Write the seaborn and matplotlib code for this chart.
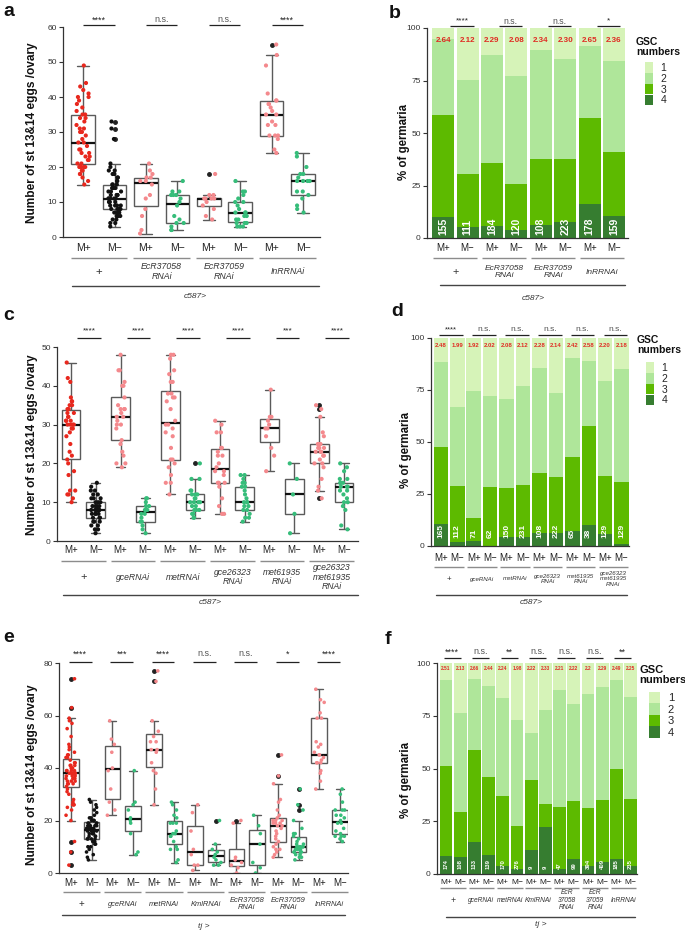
import numpy as np
import pandas as pd
import matplotlib
matplotlib.use('Agg')
import matplotlib.pyplot as plt
import seaborn as sns
from matplotlib.patches import Patch

np.random.seed(3)
sns.set_theme(style='white')
plt.rcParams['font.family'] = ['Liberation Sans', 'DejaVu Sans']
plt.rcParams['axes.linewidth'] = 0.9

W, H = 685, 931
fig = plt.figure(figsize=(W / 100, H / 100), dpi=100)

RED, BLACK, PINK, GREEN = '#e8281e', '#111111', '#f4898d', '#36bd7a'
GSC_COL = {1: '#d6f3b8', 2: '#afe69a', 3: '#5dba00', 4: '#367d30'}
MEAN_RED = '#e02a22'

# ---------------- data: panel a ----------------
a_groups = ['+', 'EcR37058\nRNAi', 'EcR37059\nRNAi', 'InRRNAi']
a_sig = ['****', 'n.s.', 'n.s.', '****']
a_vals = [
    [49, 44, 43, 42, 41, 40, 40, 39, 38, 37, 36, 35, 35, 34, 34, 33, 32, 31, 31, 30, 30, 29, 28, 27, 27, 26, 25, 25,
     24, 24, 23, 23, 22, 22, 21, 21, 20, 20, 20, 20, 19, 19, 18, 18, 17, 16, 15],
    [33, 31, 28, 21, 20, 19, 19, 18, 18, 17, 17, 16, 16, 15, 15, 15, 14, 14, 14, 13, 13, 13, 12, 12, 12, 12, 11, 11,
     11, 11, 11, 10, 10, 10, 10, 9, 9, 9, 9, 8, 8, 8, 8, 7, 7, 7, 6, 6, 6, 5, 5, 4, 4, 3],
    [21, 19, 18, 17, 17, 16, 16, 15, 12, 11, 8, 6, 2, 1],
    [16, 13, 13, 12, 12, 12, 11, 10, 9, 6, 5, 4, 4, 3, 2, 2],
    [18, 12, 12, 11, 11, 11, 11, 10, 9, 8, 6, 5],
    [16, 13, 13, 12, 11, 10, 10, 9, 8, 7, 7, 7, 6, 6, 5, 5, 4, 4, 4, 3, 3, 3],
    [55, 52, 49, 41, 39, 39, 38, 38, 37, 36, 35, 35, 33, 32, 32, 29, 29, 29, 28, 25, 24],
    [24, 23, 20, 18, 18, 17, 16, 16, 16, 16, 13, 13, 12, 11, 9, 8, 7],
]
a_colors = [RED, BLACK, PINK, GREEN, PINK, GREEN, PINK, GREEN]

# ---------------- data: panel c ----------------
c_groups = ['+', 'gceRNAi', 'metRNAi', 'gce26323\nRNAi', 'met61935\nRNAi', 'gce26323\nmet61935\nRNAi']
c_sig = ['****', '****', '****', '****', '***', '****']
c_vals = [
    [46, 42, 41, 37, 36, 36, 35, 35, 34, 34, 33, 33, 32, 32, 31, 31, 31, 30, 30, 30, 30, 29, 29, 28, 27, 25, 23, 22,
     21, 20, 18, 17, 13, 13, 12, 12, 11, 10],
    [15, 14, 13, 13, 12, 12, 11, 11, 11, 10, 10, 10, 9, 9, 9, 9, 8, 8, 8, 8, 8, 8, 7, 7, 7, 7, 6, 6, 6, 5, 5, 5, 4, 4,
     3, 3, 2],
    [48, 44, 44, 41, 40, 40, 37, 35, 34, 34, 34, 33, 32, 32, 31, 30, 30, 29, 26, 25, 23, 22, 20, 20, 19],
    [11, 11, 10, 9, 9, 8, 8, 8, 7, 7, 6, 5, 5, 4, 3, 2],
    [48, 48, 47, 44, 43, 41, 41, 38, 38, 37, 37, 36, 34, 31, 30, 30, 29, 28, 27, 24, 21, 21, 20, 19, 17, 15, 15, 12],
    [20, 16, 16, 13, 13, 12, 12, 12, 11, 11, 10, 10, 10, 10, 9, 9, 8, 8, 8, 7, 7, 6, 6],
    [31, 30, 28, 28, 24, 24, 23, 22, 22, 20, 19, 18, 18, 17, 15, 15, 15, 14, 11, 9, 7, 7],
    [17, 17, 16, 15, 15, 14, 14, 13, 12, 11, 10, 10, 10, 9, 9, 8, 8, 7, 6, 6, 5],
    [39, 32, 32, 31, 30, 29, 29, 27, 24, 22, 18],
    [20, 16, 12, 7, 2],
    [35, 34, 32, 28, 27, 25, 25, 25, 24, 24, 24, 23, 23, 23, 22, 22, 21, 20, 20, 19, 16, 14, 13, 11],
    [20, 19, 18, 16, 16, 15, 15, 15, 14, 14, 14, 13, 13, 12, 11, 10, 10, 9, 8, 4, 3],
]
c_colors = [RED, BLACK] + [PINK, GREEN] * 5

# ---------------- data: panel e ----------------
e_groups = ['+', 'gceRNAi', 'metRNAi', 'KmlRNAi', 'EcR37058\nRNAi', 'EcR37059\nRNAi', 'InRRNAi']
e_sig = ['****', '***', '****', 'n.s.', 'n.s.', '*', '****']
e_vals = [
    [74, 63, 59, 58, 57, 55, 52, 49, 48, 47, 46, 45, 45, 44, 44, 43, 42, 42, 41, 41, 41, 40, 40, 40, 39, 39, 39, 39,
     38, 38, 38, 38, 37, 37, 37, 36, 36, 36, 35, 35, 35, 34, 34, 34, 33, 32, 31, 30, 28, 27, 26, 26, 26, 25, 24, 22,
     20, 12, 8, 3],
    [28, 27, 26, 25, 24, 23, 22, 21, 21, 20, 20, 20, 20, 19, 19, 19, 19, 18, 18, 18, 18, 17, 17, 17, 17, 17, 16, 16,
     16, 16, 15, 15, 15, 15, 14, 14, 14, 13, 13, 13, 13, 12, 12, 11, 11, 10, 10, 9, 8, 7, 6, 5],
    [58, 51, 49, 46, 40, 39, 32, 27, 24, 22],
    [39, 27, 26, 24, 21, 20, 19, 15, 8, 7],
    [77, 73, 58, 54, 52, 50, 50, 47, 47, 46, 42, 39, 38, 32, 26],
    [27, 26, 24, 22, 21, 19, 19, 19, 16, 15, 15, 14, 14, 12, 10, 9, 9, 5, 4],
    [26, 23, 16, 9, 7, 3, 3, 1],
    [20, 11, 9, 8, 7, 6, 5, 4, 3, 3],
    [20, 19, 6, 5, 4, 3, 2, 0],
    [22, 18, 15, 11, 4, 2, 0],
    [45, 37, 34, 28, 27, 24, 22, 21, 20, 20, 20, 19, 19, 19, 18, 18, 17, 16, 15, 14, 13, 12, 11, 10, 9, 9, 8, 7, 6],
    [32, 26, 24, 20, 17, 15, 15, 14, 13, 12, 11, 11, 10, 10, 10, 10, 10, 9, 9, 9, 9, 8, 8, 8, 8, 7, 7, 6, 6, 5],
    [70, 66, 65, 61, 59, 59, 50, 49, 48, 46, 45, 45, 44, 43, 42, 42, 42, 39, 38, 35, 32],
    [32, 30, 27, 24, 24, 24, 22, 22, 21, 20, 19, 19, 17, 16, 15, 14, 14, 14, 13, 12],
]
e_colors = [RED, BLACK] + [PINK, GREEN] * 6

# ---------------- data: panel b (percent of germaria with 4/3/2/1 GSCs) ----------------
b_groups = a_groups
b_sig = ['****', 'n.s.', 'n.s.', '*']
b_p4 = [10.2, 5.4, 5.9, 4.0, 6.3, 7.5, 16.3, 10.6]
b_p3 = [48.5, 25.2, 30.0, 21.9, 31.5, 30.0, 40.8, 30.2]
b_p2 = [36.1, 44.8, 51.4, 51.4, 51.9, 47.7, 34.5, 43.3]
b_p1 = [5.2, 24.6, 12.7, 22.7, 10.3, 14.8, 8.4, 15.9]
b_means = ['2.64', '2.12', '2.29', '2.08', '2.34', '2.30', '2.65', '2.36']
b_n = [155, 111, 184, 120, 108, 223, 178, 159]

# ---------------- data: panel d ----------------
d_groups = c_groups
d_sig = ['****', 'n.s.', 'n.s.', 'n.s.', 'n.s.', 'n.s.']
d_p4 = [10.5, 1.9, 2.3, 0.0, 4.3, 4.3, 6.1, 6.4, 7.4, 10.1, 5.9, 1.1]
d_p3 = [36.9, 26.9, 11.4, 28.6, 23.4, 25.0, 28.8, 26.6, 35.2, 47.6, 27.9, 29.5]
d_p2 = [41.3, 37.8, 60.6, 43.7, 43.2, 47.7, 50.8, 40.4, 47.9, 31.4, 45.7, 54.5]
d_p1 = [11.3, 33.4, 25.7, 27.7, 29.1, 23.0, 14.3, 26.6, 9.5, 10.9, 20.5, 14.9]
d_means = ['2.48', '1.99', '1.92', '2.02', '2.08', '2.12', '2.28', '2.14', '2.42', '2.58', '2.20', '2.18']
d_n = [165, 112, 71, 62, 150, 231, 108, 222, 65, 38, 129, 129]

# ---------------- data: panel f ----------------
f_groups = ['+', 'gceRNAi', 'metRNAi', 'KmlRNAi', 'EcR\n37058\nRNAi', 'EcR\n37059\nRNAi', 'InRRNAi']
f_sig = ['****', 'n.s.', '**', 'n.s.', 'n.s.', 'n.s.', '**']
f_p4 = [8.5, 7.9, 15.3, 9.0, 3.8, 2.4, 11.4, 22.4, 2.4, 7.1, 3.9, 5.8, 7.3, 3.9]
f_p3 = [42.6, 21.6, 43.4, 37.1, 33.1, 20.5, 33.1, 11.0, 29.5, 27.4, 27.5, 29.2, 42.4, 31.6]
f_p2 = [40.7, 46.8, 33.6, 42.9, 46.5, 50.3, 22.1, 44.2, 55.2, 46.3, 53.8, 53.6, 42.1, 48.4]
f_p1 = [8.2, 23.7, 7.7, 11.0, 16.6, 26.8, 33.4, 22.4, 12.9, 19.2, 14.8, 11.4, 8.2, 16.1]
f_means = ['2.51', '2.13', '2.66', '2.44', '2.24', '1.98', '2.22', '2.33', '2.21', '2.22', '2.2', '2.29', '2.49', '2.25']
f_n = [174, 108, 133, 139, 170, 276, 9, 9, 47, 99, 394, 409, 185, 235]


# ---------------- helpers ----------------
def px_ax(x0, y0, x1, y1):
    ax = fig.add_axes([x0 / W, 1 - y1 / H, (x1 - x0) / W, (y1 - y0) / H])
    ax.set_facecolor('none')
    return ax


def yf(cfg, ypx):
    return (cfg['bot'] - ypx) / (cfg['bot'] - cfg['top'])


def decorate(ax, n, groups, sig, cfg, driver):
    tr = ax.get_xaxis_transform()
    for i in range(n):
        ax.text(i, yf(cfg, cfg['tick_y']), 'M+' if i % 2 == 0 else 'M\u2212', transform=tr,
                ha='center', va='center', fontsize=cfg['tick_fs'], color='#222222', clip_on=False)
    for g, lab in enumerate(groups):
        ax.plot([2 * g - 0.4, 2 * g + 1.4], [yf(cfg, cfg['gline_y'])] * 2, transform=tr,
                color='#8c8c8c', lw=1.0, clip_on=False, solid_capstyle='butt')
        ax.text(2 * g + 0.5, yf(cfg, cfg['glab_y']), lab, transform=tr, ha='center', va='center',
                fontsize=cfg['glab_fs'] * (1.3 if lab == '+' else 1.0),
                style='normal' if lab == '+' else 'italic', color='#333333',
                linespacing=1.05, clip_on=False)
        s = sig[g]
        x0, x1 = 2 * g + cfg['sig_dx'][0], 2 * g + 1 + cfg['sig_dx'][1]
        ax.plot([x0, x1], [yf(cfg, cfg['sig_line_y'])] * 2, transform=tr, color='#222222', lw=0.9,
                clip_on=False, solid_capstyle='butt')
        star = s.startswith('*')
        ax.text((x0 + x1) / 2, yf(cfg, cfg['sig_text_y']), s, transform=tr, ha='center', va='center',
                fontsize=cfg['star_fs'] if star else cfg['ns_fs'],
                color='#222222' if star else '#555555', clip_on=False)
    lx = cfg['long_x']
    ax.plot(lx, [yf(cfg, cfg['long_y'])] * 2, transform=tr, color='#444444', lw=1.0, clip_on=False)
    ax.text(sum(lx) / 2, yf(cfg, cfg['driver_y']), driver, transform=tr, ha='center', va='center',
            fontsize=cfg['driver_fs'], style='italic', color='#333333', clip_on=False)


def style_axes(ax, cfg, yticks):
    sns.despine(ax=ax)
    ax.set_xlim(*cfg['xlim'])
    ax.set_ylim(yticks[0], yticks[-1])
    ax.set_yticks(yticks)
    ax.set_yticklabels([str(t) for t in yticks])
    ax.set_xticks([])
    ax.set_xlabel('')
    ax.set_ylabel('')
    ax.tick_params(axis='y', left=True, length=3, width=0.8, pad=1.5, labelsize=cfg['ytick_fs'],
                   colors='#333333')
    for sp in ['left', 'bottom']:
        ax.spines[sp].set_color('#333333')


def box_panel(cfg, vals, colors, groups, sig, yticks, ylabel, driver, letter):
    ax = px_ax(cfg['left'], cfg['top'], cfg['right'], cfg['bot'])
    n = len(vals)
    cats = [str(i) for i in range(n)]
    rows = [(cats[i], v) for i, vs in enumerate(vals) for v in vs]
    df = pd.DataFrame(rows, columns=['cat', 'val'])
    sns.boxplot(data=df, x='cat', y='val', order=cats, color='white', saturation=1,
                linecolor='#5a5a5a', linewidth=1.0, width=0.75, whis=1.5, fliersize=2.5,
                flierprops=dict(marker='o', markerfacecolor='#222222', markeredgecolor='#222222'),
                medianprops=dict(color='#111111', linewidth=1.6), ax=ax)
    sns.stripplot(data=df, x='cat', y='val', order=cats, hue='cat', palette=dict(zip(cats, colors)),
                  jitter=cfg['jitter'], size=cfg['pt'], linewidth=0, legend=False, ax=ax, zorder=3)
    style_axes(ax, cfg, yticks)
    decorate(ax, n, groups, sig, cfg, driver)
    fig.text(cfg['ylab_x'] / W, 1 - cfg['ylab_y'] / H, ylabel, rotation=90, ha='center', va='center',
             fontsize=8.6, fontweight='bold', color='#111111')
    fig.text(cfg['let_x'] / W, 1 - cfg['let_y'] / H, letter, ha='left', va='center', fontsize=14,
             fontweight='bold', color='#111111')
    return ax


def bar_panel(cfg, p4, p3, p2, p1, means, counts, groups, sig, driver, letter):
    ax = px_ax(cfg['left'], cfg['top'], cfg['right'], cfg['bot'])
    n = len(means)
    cats = [str(i) for i in range(n)]
    segs = {4: np.array(p4), 3: np.array(p3), 2: np.array(p2), 1: np.array(p1)}
    cum = {4: segs[4], 3: segs[4] + segs[3], 2: segs[4] + segs[3] + segs[2],
           1: segs[4] + segs[3] + segs[2] + segs[1]}
    for lvl in [1, 2, 3, 4]:
        df = pd.DataFrame({'cat': cats, 'y': cum[lvl]})
        sns.barplot(data=df, x='cat', y='y', order=cats, color=GSC_COL[lvl], saturation=1,
                    width=cfg['bw'], edgecolor='none', linewidth=0, ax=ax, errorbar=None)
    style_axes(ax, cfg, [0, 25, 50, 75, 100])
    for i in range(n):
        ax.text(i, cfg['mean_y'], means[i], ha='center', va='center', fontsize=cfg['mean_fs'],
                fontweight='bold', color=MEAN_RED)
        ax.text(i, cfg['n_y'], str(counts[i]), ha='center', va='bottom', rotation=90,
                fontsize=cfg['n_fs'], fontweight='bold', color='white')
    decorate(ax, n, groups, sig, cfg, driver)
    fig.text(cfg['ylab_x'] / W, 1 - cfg['ylab_y'] / H, '% of germaria', rotation=90, ha='center',
             va='center', fontsize=8.3, fontweight='bold', color='#111111')
    fig.text(cfg['let_x'] / W, 1 - cfg['let_y'] / H, letter, ha='left', va='center', fontsize=14,
             fontweight='bold', color='#111111')
    # legend
    lx, ly, lfs = cfg['leg']
    fig.text(lx / W, 1 - ly / H, 'GSC\nnumbers', ha='left', va='top', fontsize=lfs, fontweight='bold',
             color='#111111', linespacing=1.0)
    handles = [Patch(facecolor=GSC_COL[k], edgecolor='none') for k in [1, 2, 3, 4]]
    fig.legend(handles, ['1', '2', '3', '4'], loc='upper left',
               bbox_to_anchor=(cfg['leg_patch'][0] / W, 1 - cfg['leg_patch'][1] / H),
               frameon=False, fontsize=lfs, handlelength=cfg['leg_hl'], handleheight=1.2,
               handletextpad=0.7, labelspacing=0.0, borderpad=0, borderaxespad=0)
    return ax


ylab = 'Number of st 13&14 eggs /ovary'

cfg_a = dict(left=63, right=320, top=27, bot=237, xlim=(-0.64, 7.54), tick_y=248, tick_fs=7.5,
             gline_y=258, glab_y=271.5, glab_fs=6.3, long_y=286, long_x=(-0.35, 7.5), driver_y=297,
             driver_fs=6, sig_line_y=25, sig_text_y=20, sig_dx=(0.0, 0.0), star_fs=6.5, ns_fs=6.5,
             ytick_fs=6, jitter=0.22, pt=3.0, ylab_x=32, ylab_y=133, let_x=3, let_y=11)
box_panel(cfg_a, a_vals, a_colors, a_groups, a_sig, [0, 10, 20, 30, 40, 50, 60], ylab, 'c587>', 'a')

cfg_c = dict(left=57, right=358, top=347, bot=541, xlim=(-0.56, 11.56), tick_y=550, tick_fs=7,
             gline_y=561, glab_y=577, glab_fs=6.2, long_y=595, long_x=(-0.32, 11.57), driver_y=603,
             driver_fs=6, sig_line_y=338, sig_text_y=331, sig_dx=(0.25, 0.2), star_fs=6, ns_fs=6,
             ytick_fs=6, jitter=0.2, pt=3.0, ylab_x=32.5, ylab_y=445, let_x=3, let_y=316)
box_panel(cfg_c, c_vals, c_colors, c_groups, c_sig, [0, 10, 20, 30, 40, 50], ylab, 'c587>', 'c')

cfg_e = dict(left=59, right=348, top=663, bot=873, xlim=(-0.58, 13.39), tick_y=883, tick_fs=7,
             gline_y=892, glab_y=904, glab_fs=5.4, long_y=915, long_x=(-0.43, 13.24), driver_y=926,
             driver_fs=6, sig_line_y=661.5, sig_text_y=654, sig_dx=(-0.1, 0.0), star_fs=6.5, ns_fs=6.5,
             ytick_fs=6, jitter=0.25, pt=2.6, ylab_x=32, ylab_y=775, let_x=3, let_y=638)
box_panel(cfg_e, e_vals, e_colors, e_groups, e_sig, [0, 20, 40, 60, 80], ylab, 'tj >', 'e')

cfg_b = dict(left=427, right=628, top=28, bot=238, xlim=(-0.66, 7.57), tick_y=248, tick_fs=7,
             gline_y=258, glab_y=272, glab_fs=6, long_y=285, long_x=(-0.12, 7.46), driver_y=298,
             driver_fs=6, sig_line_y=26, sig_text_y=21, sig_dx=(0.3, 0.25), star_fs=6, ns_fs=6.3,
             ytick_fs=6, bw=0.9, mean_y=94, mean_fs=5.8, n_y=1.5, n_fs=7.5,
             ylab_x=404, ylab_y=142, let_x=389, let_y=13, leg=(636, 37, 7.5), leg_patch=(645, 62),
             leg_hl=0.8)
bar_panel(cfg_b, b_p4, b_p3, b_p2, b_p1, b_means, b_n, b_groups, b_sig, 'c587>', 'b')

cfg_d = dict(left=431, right=629, top=338, bot=546, xlim=(-0.6, 11.45), tick_y=558, tick_fs=7,
             gline_y=567, glab_y=579, glab_fs=4.4, long_y=595, long_x=(-0.3, 11.33), driver_y=603,
             driver_fs=6, sig_line_y=335.5, sig_text_y=329.5, sig_dx=(-0.1, 0.35), star_fs=5.5,
             ns_fs=6, ytick_fs=6, bw=0.88, mean_y=96.5, mean_fs=4.3, n_y=4, n_fs=6,
             ylab_x=406, ylab_y=450, let_x=391, let_y=312, leg=(637, 335, 7.5), leg_patch=(646, 362),
             leg_hl=0.8)
bar_panel(cfg_d, d_p4, d_p3, d_p2, d_p1, d_means, d_n, d_groups, d_sig, 'c587>', 'd')

cfg_f = dict(left=437, right=637, top=663, bot=874, xlim=(-0.63, 13.45), tick_y=882, tick_fs=6,
             gline_y=888, glab_y=900, glab_fs=4.8, long_y=917, long_x=(0.0, 13.3), driver_y=925,
             driver_fs=6, sig_line_y=658, sig_text_y=652, sig_dx=(-0.15, 0.05), star_fs=6.5, ns_fs=6.5,
             ytick_fs=6, bw=0.9, mean_y=97.6, mean_fs=3.4, n_y=2.5, n_fs=4.2,
             ylab_x=406, ylab_y=780, let_x=385, let_y=639, leg=(639, 665, 8), leg_patch=(649, 692),
             leg_hl=1.0)
bar_panel(cfg_f, f_p4, f_p3, f_p2, f_p1, f_means, f_n, f_groups, f_sig, 'tj >', 'f')

fig.savefig('out.png', dpi=100, facecolor='white')
